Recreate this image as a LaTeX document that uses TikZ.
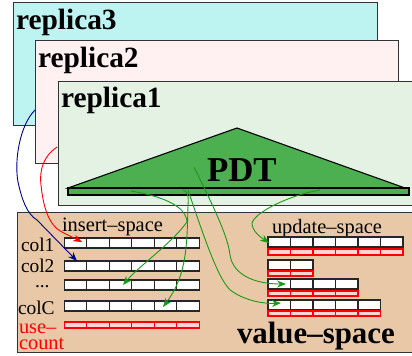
\documentclass[tikz,border=0pt]{standalone}
\usepackage{fontspec}
\setmainfont{Liberation Serif}
\usetikzlibrary{arrows.meta}
\definecolor{rthree}{HTML}{BDF4F2}
\definecolor{rtwo}{HTML}{FFF1F1}
\definecolor{rone}{HTML}{E4F2E4}
\definecolor{pdtgreen}{HTML}{4CAF50}
\definecolor{tan}{HTML}{E8C8A6}
\definecolor{pinkc}{HTML}{FFD4D4}
\definecolor{arrgreen}{HTML}{1A9A1A}
\definecolor{navyc}{HTML}{00008B}
\begin{document}
\begin{tikzpicture}[x=1bp,y=-1bp,
  box/.style={draw=black!80, line width=1.2bp},
  cell/.style={draw=black!85, line width=1.1bp, fill=white, minimum width=22.5bp, minimum height=10bp, inner sep=0pt, outer sep=0pt, anchor=north west},
  rcell/.style={cell, draw=red, fill=pinkc, minimum height=6bp},
  lbl/.style={anchor=base west, inner sep=0pt, outer sep=0pt},
  big/.style={lbl, font=\fontsize{29.5}{31}\selectfont\bfseries},
  mid/.style={lbl, font=\fontsize{20.5}{22}\selectfont},
  col/.style={lbl, font=\fontsize{19.5}{21}\selectfont},
  conn/.style={line width=0.9bp, -{Stealth[length=9bp,width=7bp]}}]
\useasboundingbox (0,0) rectangle (412,356);
% replicas
\node[box, fill=rthree, minimum width=364bp, minimum height=123bp, anchor=north west, inner sep=0pt] (rep3) at (13,2) {};
\node[big] (t3) at (16,29) {replica3};
\node[box, fill=rtwo, minimum width=363bp, minimum height=123bp, anchor=north west, inner sep=0pt] (rep2) at (35,40) {};
\node[big] (t2) at (38,67) {replica2};
\node[box, fill=rone, minimum width=360bp, minimum height=124bp, anchor=north west, inner sep=0pt] (rep1) at (58,81) {};
\node[big] (t1) at (61,107) {replica1};
% PDT
\draw[draw=black, line width=1.1bp, fill=pdtgreen] (68,188) -- (237,128) -- (405,188) -- cycle;
\draw[draw=black, line width=1.1bp, fill=pdtgreen] (68,188) rectangle (409,195);
\node[lbl, font=\fontsize{35}{37}\selectfont\bfseries] (pdt) at (207,181) {PDT};
% value space
\node[box, fill=tan, minimum width=400bp, minimum height=140bp, anchor=north west, inner sep=0pt] (vs) at (17,212) {};
\node[mid] (ins) at (62,231) {insert--space};
\node[mid] (upd) at (272,233) {update--space};
\node[col] (c1) at (21,251) {col1};
\node[col] (c2) at (21,272) {col2};
\node[col] (cd) at (35,287) {...};
\node[col] (cc) at (18,314) {colC};
\node[mid, text=red] (use) at (19,333) {use--};
\node[mid, text=red] (cnt) at (19,349) {count};
\node[lbl, font=\fontsize{31}{33}\selectfont\bfseries] (vsl) at (237,343) {value--space};
% insert cells
\foreach \r/\y in {1/238,2/261,3/280,4/301}{
  \foreach \c in {0,...,5}{\node[cell] (i\r-\c) at ({64.3+22.5*\c},\y) {};}
}
\foreach \c in {0,...,5}{\node[rcell] (iu-\c) at ({64.3+22.5*\c},322) {};}
% update cells
\foreach \c in {0,...,5}{\node[cell] (ua-\c) at ({268+22.5*\c},237) {}; \node[rcell] (uar-\c) at ({268+22.5*\c},249) {};}
\foreach \c in {0,1}{\node[cell] (ub-\c) at ({268+22.5*\c},260) {}; \node[rcell, minimum height=5bp] (ubr-\c) at ({268+22.5*\c},271) {};}
\foreach \c in {0,...,3}{\node[cell] (uc-\c) at ({268+22.5*\c},279) {}; \node[rcell, minimum height=5bp] (ucr-\c) at ({268+22.5*\c},291) {};}
\foreach \c in {0,...,4}{\node[cell] (ud-\c) at ({268+22.5*\c},300) {}; \node[rcell, minimum height=5bp] (udr-\c) at ({268+22.5*\c},311) {};}
% connector end points
\coordinate (sb) at (35,110);
\coordinate (sr) at (57,147);
\coordinate (g1) at (131,191);
\coordinate (g2) at (183,190);
\coordinate (g3) at (194,167);
\coordinate (g4) at (188,190);
\coordinate (g5) at (320,190);
\coordinate (eb) at (77,261);
\coordinate (er) at (82,242);
\coordinate (e1) at (123,285);
\coordinate (e2) at (163,307);
\coordinate (e3) at (286,284);
\coordinate (e4) at (281,303);
\coordinate (e5) at (269,243);
% connectors
\draw[conn, navyc] (sb) .. controls (20,125) and (14,160) .. (18,182) .. controls (22,200) and (27,214) .. (37,220) -- (eb);
\draw[conn, red] (sr) .. controls (45,155) and (39,168) .. (41,185) .. controls (43,205) and (48,225) .. (62,232) -- (er);
\draw[conn, arrgreen] (g1) .. controls (160,196) and (186,205) .. (187,222) .. controls (170,245) and (140,265) .. (e1);
\draw[conn, arrgreen] (g2) .. controls (187,191) and (189,195) .. (188,205) .. controls (187,245) and (187,275) .. (e2);
\draw[conn, arrgreen] (g3) .. controls (210,200) and (228,235) .. (230,255) .. controls (233,275) and (255,284) .. (e3);
\draw[conn, arrgreen] (g4) .. controls (205,240) and (220,285) .. (233,292) .. controls (245,300) and (262,304) .. (e4);
\draw[conn, arrgreen] (g5) .. controls (290,195) and (255,212) .. (252,223) .. controls (252,232) and (262,238) .. (e5);
\end{tikzpicture}
\end{document}
